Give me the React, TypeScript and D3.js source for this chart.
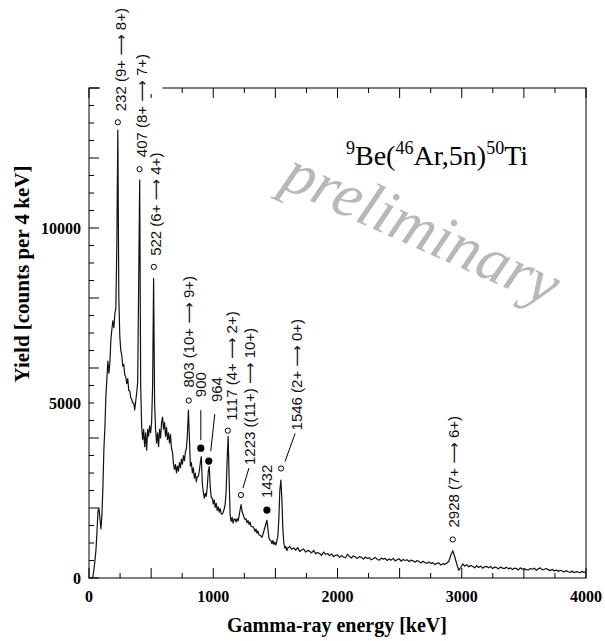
import React from "react";
import * as d3 from "d3";

const W = 605;
const H = 641;
const plot = { left: 89, right: 586, top: 88, bottom: 578 };

// axes
const energyDomain = [0, 4000];
const countsDomain = [0, 14000];
const xTickLabels = [0, 1000, 2000, 3000, 4000];
const yTickLabels = [0, 5000, 10000];

// spectrum, low-energy part: bins of 8 keV starting at 0 keV
const lowStart = 0;
const lowStep = 8;
const countsLow = [
  0, 0, 0, 0, 50, 250, 500, 800, 1300, 1900,
  2000, 1700, 1400, 1800, 2600, 3700, 4300, 5200, 5700, 6200,
  5850, 6150, 6800, 7100, 7350, 7150, 7550, 7700, 9500, 12800,
  8000, 6900, 6500, 6350, 6050, 6100, 5800, 5750, 5550, 5700,
  5350, 5350, 5150, 5100, 5000, 5000, 4800, 5050, 5300, 5600,
  8500, 11370, 5500, 4300, 3950, 4250, 3750, 4150, 3650, 4250,
  4050, 4350, 4150, 4450, 5500, 8560, 5000, 4250, 3850, 4150,
  3750, 4250, 4000, 4450, 4600, 4250, 4450, 4050, 4300, 3950,
  4150, 3850, 4100, 3700, 3600, 3250, 3100, 3250, 3000, 3200,
  3050, 3300, 3150, 3400, 3250, 3500, 3350, 3600, 3700, 4100,
  4800, 4000, 3200, 3300, 3000, 3150, 2850, 3000, 2750, 2900,
  2900, 3050, 3300, 3470, 2700, 2450, 2280, 2420, 2330, 2600,
  3050, 3180, 2600, 2300, 2280, 2120, 2230, 2020, 2130, 1930,
  2030, 1880, 1980, 1830, 1820, 1880, 1970, 2100, 2500, 3400,
  4050, 2800, 1800, 1620, 1730, 1570, 1680, 1680, 1600, 1700,
  1630, 1770, 1950, 2100, 1900, 1820, 1730, 1670, 1690, 1580,
  1640, 1530, 1600, 1480, 1470, 1460, 1420, 1330, 1400, 1280,
  1340, 1230, 1220, 1200, 1160, 1250, 1350, 1450, 1550, 1650,
  1400, 1150, 1080, 1070, 980, 1070, 960, 1020, 940, 1060,
  1200, 1700, 2500, 2800, 2300, 1400, 1000, 850, 900, 780,
  860,
];

// spectrum, high-energy part: bins of 16 keV starting at 1616 keV
const highStart = 1616;
const highStep = 16;
const countsHigh = [
  900, 820, 860, 800, 870, 760, 800, 830, 740, 790,
  760, 720, 790, 690, 730, 700, 650, 740, 680, 700,
  640, 690, 610, 650, 660, 590, 640, 600, 580, 680,
  620, 570, 630, 600, 560, 610, 590, 540, 600, 560,
  580, 520, 550, 590, 530, 510, 570, 540, 560, 500,
  540, 510, 560, 490, 520, 550, 480, 530, 500, 520,
  470, 510, 490, 450, 500, 470, 430, 480, 440, 420,
  460, 410, 440, 380, 420, 430, 370, 410, 390, 430,
  480, 650, 780, 600, 400, 220, 300, 400, 340, 380,
  320, 360, 330, 290, 350, 300, 340, 280, 320, 330,
  290, 330, 270, 310, 300, 260, 320, 280, 270, 310,
  260, 290, 240, 280, 270, 230, 290, 250, 260, 240,
  230, 270, 250, 280, 220, 260, 290, 230, 250, 270,
  240, 210, 250, 200, 230, 190, 220, 200, 170, 210,
  180, 160, 200, 150, 180, 170, 150, 190, 160, 180,
];

// peak annotations
const peakEnergies = [232, 407, 522, 803, 900, 964, 1117, 1223, 1432, 1546, 2928];
const peakLabels = [
  "232 (9+ \u27F6 8+)",
  "407 (8+ \u27F6 7+)",
  "522 (6+ \u27F6 4+)",
  "803 (10+ \u27F6 9+)",
  "900",
  "964",
  "1117 (4+ \u27F6 2+)",
  "1223 ((11+) \u27F6 10+)",
  "1432",
  "1546 (2+ \u27F6 0+)",
  "2928 (7+ \u27F6 6+)",
];
const peakOpen = [true, true, true, true, false, false, true, true, false, true, true];
const markerCounts = [13020, 11680, 8890, 5070, 3710, 3340, 4210, 2370, 1940, 3130, 1100];

// label layout relative to the marker (px): text centre dx, text start dy, optional leader
type LabelLayout = { dx: number; dy: number; leader?: [number, number, number, number] };
const labelLayout: Record<number, LabelLayout> = {
  232: { dx: 3, dy: -11 },
  407: { dx: 2, dy: -12 },
  522: { dx: 2, dy: -11 },
  803: { dx: 0, dy: -13 },
  900: { dx: 0, dy: -51, leader: [0, -8, 0, -38] },
  964: { dx: 8, dy: -59, leader: [2, -10, 6, -47] },
  1117: { dx: 4, dy: -10 },
  1223: { dx: 9, dy: -30, leader: [2, -7, 8, -27] },
  1432: { dx: 0, dy: -12 },
  1546: { dx: 16, dy: -38, leader: [4, -7, 14, -35] },
  2928: { dx: 1, dy: -12 },
};

export default function App() {
  const x = d3.scaleLinear().domain(energyDomain).range([plot.left, plot.right]);
  const y = d3.scaleLinear().domain(countsDomain).range([plot.bottom, plot.top]);

  const points: [number, number][] = [
    ...countsLow.map((c, i) => [lowStart + i * lowStep, c] as [number, number]),
    ...countsHigh.map((c, i) => [highStart + i * highStep, c] as [number, number]),
  ];
  const line = d3
    .line<[number, number]>()
    .x((d) => x(d[0]))
    .y((d) => y(d[1]));

  const xTicks = d3.range(0, 4001, 250);
  const yTicks = d3.range(0, 14001, 500);
  const serif = "'Liberation Serif', 'Times New Roman', serif";
  const sans = "'Liberation Sans', 'DejaVu Sans', Arial, sans-serif";

  return (
    <svg width={W} height={H} style={{ display: "block", position: "absolute", left: 0, top: 0 }}>
      <rect x={0} y={0} width={W} height={H} fill="#fff" />

      {/* watermark */}
      <text
        transform="translate(279,187) rotate(24)"
        fontFamily={serif}
        fontStyle="italic"
        fontSize={63}
        fill="#b8b8b8"
      >
        preliminary
      </text>

      {/* frame */}
      <rect
        x={plot.left}
        y={plot.top}
        width={plot.right - plot.left}
        height={plot.bottom - plot.top}
        fill="none"
        stroke="#000"
        strokeWidth={1}
      />

      {/* bottom & top ticks */}
      {xTicks.map((t) => {
        const len = t % 500 === 0 ? 10 : 5;
        return (
          <g key={"xt" + t}>
            <line x1={x(t)} x2={x(t)} y1={plot.bottom} y2={plot.bottom - len} stroke="#000" />
            <line x1={x(t)} x2={x(t)} y1={plot.top} y2={plot.top + len} stroke="#000" />
          </g>
        );
      })}
      {/* left ticks */}
      {yTicks.map((t) => {
        const len = t % 2000 === 0 ? 10 : 5;
        return <line key={"yt" + t} x1={plot.left} x2={plot.left + len} y1={y(t)} y2={y(t)} stroke="#000" />;
      })}

      {/* spectrum */}
      <path d={line(points) || ""} fill="none" stroke="#111" strokeWidth={1.2} strokeLinejoin="round" />

      {/* white mask under top labels */}
      <rect x={x(232) - 18} y={plot.top - 6} width={x(407) + 23 - (x(232) - 18)} height={12} fill="#fff" />

      {/* peak annotations */}
      {peakEnergies.map((e, i) => {
        const cx = x(e);
        const cy = y(markerCounts[i]);
        const lay = labelLayout[e];
        const tx = cx + lay.dx + 5;
        const ty = cy + lay.dy;
        return (
          <g key={"pk" + e}>
            {peakOpen[i] ? (
              <circle cx={cx} cy={cy} r={2.6} fill="#fff" stroke="#000" strokeWidth={1} />
            ) : (
              <circle cx={cx} cy={cy} r={3.6} fill="#000" />
            )}
            {lay.leader && (
              <line
                x1={cx + lay.leader[0]}
                y1={cy + lay.leader[1]}
                x2={cx + lay.leader[2]}
                y2={cy + lay.leader[3]}
                stroke="#000"
                strokeWidth={1}
              />
            )}
            <text
              transform={`translate(${tx},${ty}) rotate(-90)`}
              fontFamily={sans}
              fontSize={15}
              fill="#111"
            >
              {peakLabels[i]}
            </text>
          </g>
        );
      })}

      {/* reaction title */}
      <text x={346} y={165} fontFamily={serif} fontSize={28} fill="#000">
        <tspan fontSize={18} dy={-11}>9</tspan>
        <tspan dy={11}>Be(</tspan>
        <tspan fontSize={18} dy={-11}>46</tspan>
        <tspan dy={11}>Ar,5n)</tspan>
        <tspan fontSize={18} dy={-11}>50</tspan>
        <tspan dy={11}>Ti</tspan>
      </text>

      {/* tick labels */}
      {xTickLabels.map((t) => (
        <text
          key={"xl" + t}
          x={x(t)}
          y={602}
          textAnchor="middle"
          fontFamily={serif}
          fontWeight="bold"
          fontSize={16}
        >
          {t}
        </text>
      ))}
      {yTickLabels.map((t) => (
        <text
          key={"yl" + t}
          x={81}
          y={y(t) + 5.5}
          textAnchor="end"
          fontFamily={serif}
          fontWeight="bold"
          fontSize={16}
        >
          {t}
        </text>
      ))}

      {/* axis titles */}
      <text x={337} y={632} textAnchor="middle" fontFamily={serif} fontWeight="bold" fontSize={20}>
        Gamma-ray energy [keV]
      </text>
      <text
        transform="translate(29,274) rotate(-90)"
        textAnchor="middle"
        fontFamily={serif}
        fontWeight="bold"
        fontSize={21}
      >
        Yield [counts per 4 keV]
      </text>
    </svg>
  );
}
